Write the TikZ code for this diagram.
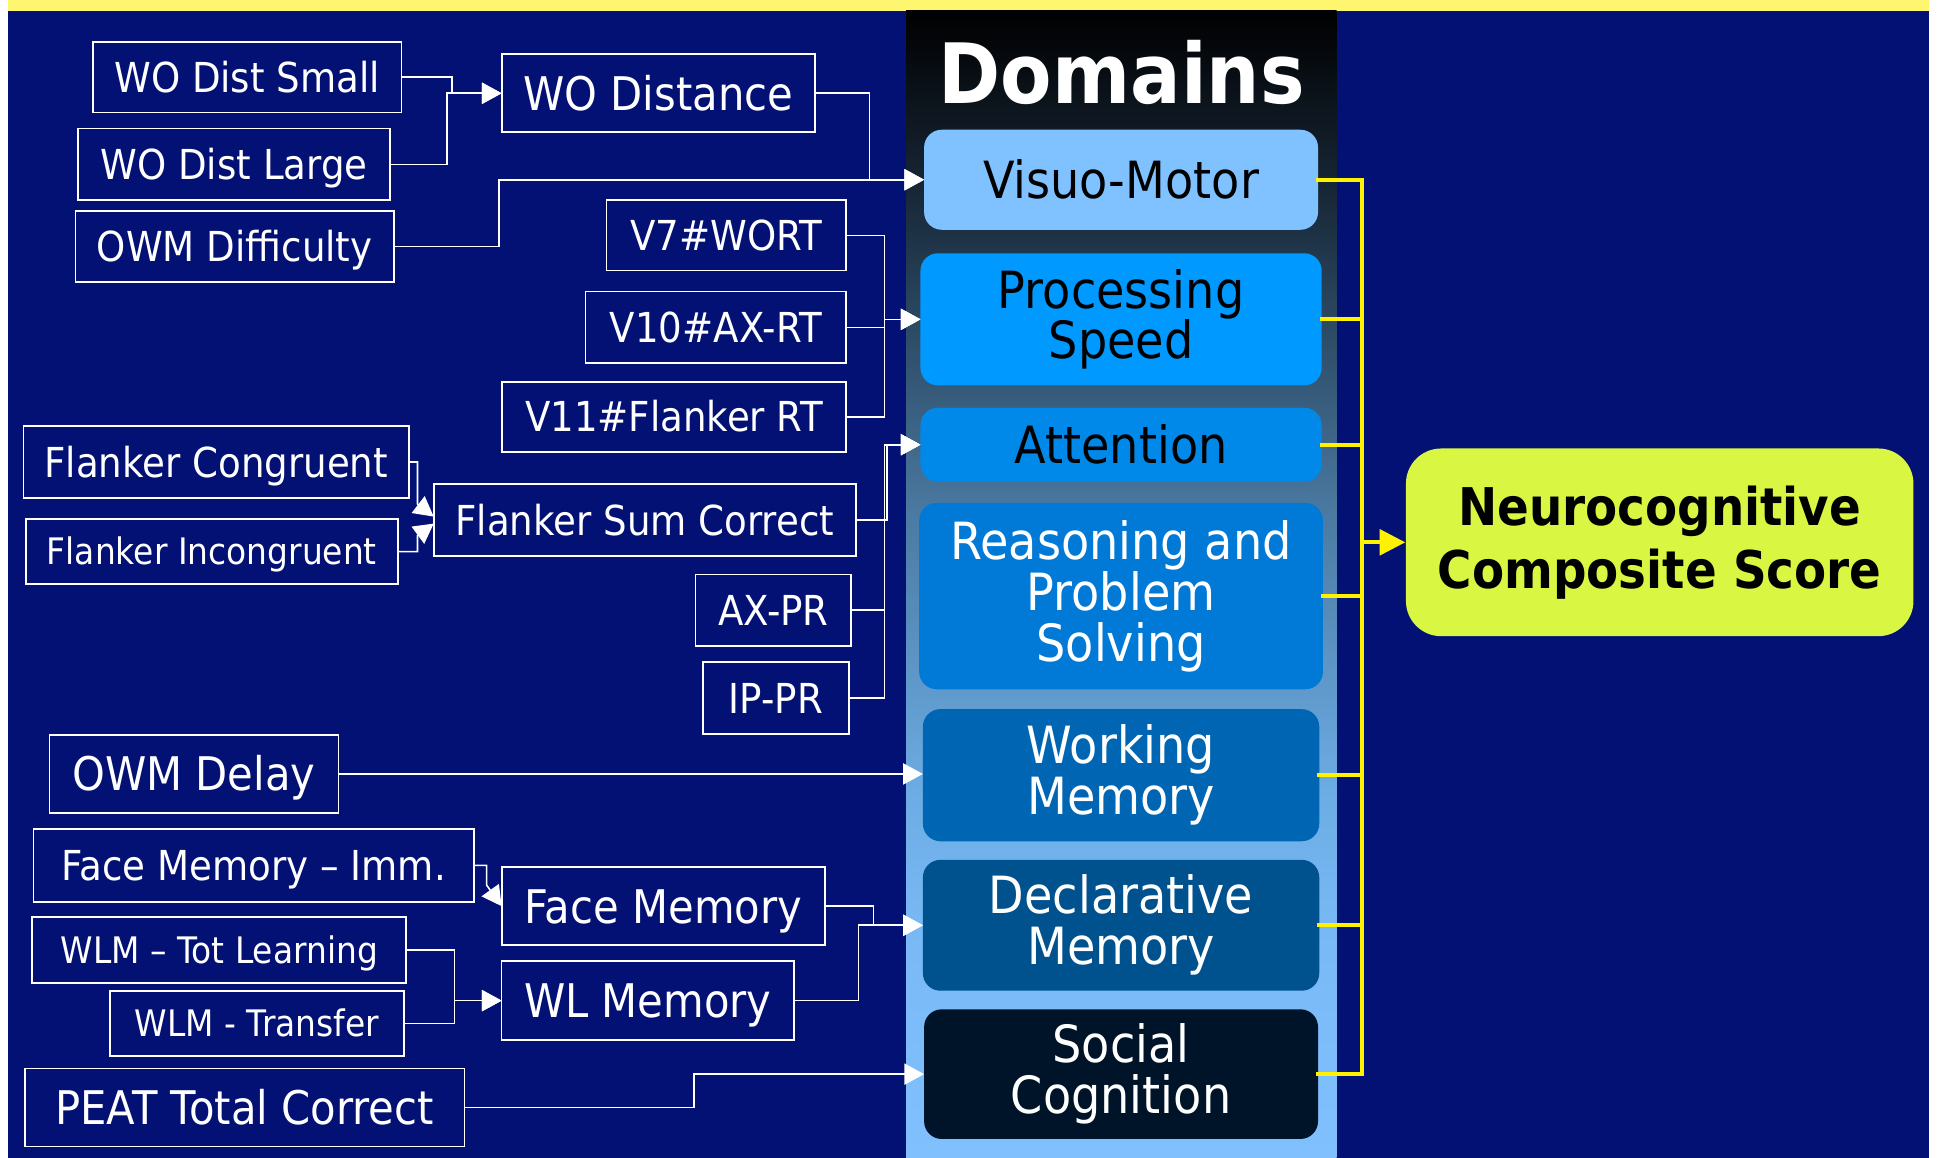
\documentclass[tikz,border=0pt]{standalone}
\usepackage{fontspec}
\setmainfont{DejaVu Sans}[FakeStretch=0.9]
\usetikzlibrary{arrows.meta}

\definecolor{slidenavy}{RGB}{2,17,115}
\definecolor{bandyellow}{RGB}{255,246,112}
\definecolor{panellight}{RGB}{128,192,255}
\definecolor{panelmidA}{RGB}{120,185,245}
\definecolor{panelmidB}{RGB}{108,172,228}
\definecolor{panelmidC}{RGB}{75,122,162}
\definecolor{panelmidD}{RGB}{45,75,102}
\definecolor{panelmidE}{RGB}{24,40,56}
\definecolor{dvm}{RGB}{128,194,255}
\definecolor{dps}{RGB}{0,153,255}
\definecolor{datt}{RGB}{0,137,232}
\definecolor{drps}{RGB}{0,122,214}
\definecolor{dwm}{RGB}{0,102,179}
\definecolor{ddm}{RGB}{0,82,143}
\definecolor{dsc}{RGB}{0,20,41}
\definecolor{ncs}{RGB}{217,247,66}

\pgfdeclareverticalshading{panelshade}{100bp}{color(0bp)=(panellight); color(25bp)=(panellight); color(35bp)=(panelmidA); color(41bp)=(panelmidB); color(53bp)=(panelmidC); color(61bp)=(panelmidD); color(67bp)=(panelmidE); color(75bp)=(black); color(100bp)=(black)}

\def\pxu{0.3515pt}
\newcommand\domtxt{\fontsize{14.6}{14.5}\selectfont}

\begin{document}
\begin{tikzpicture}[x=0.012353cm, y=-0.012353cm,
    >={Triangle[length=5.6pt,width=6pt]},
    measurebox/.style={draw=white, line width=0.5pt, text=white, inner sep=0pt, outer sep=0pt},
    normbox/.style={font=\fontsize{11.75}{14}\selectfont, text height=11.5pt, text depth=2.94pt},
    bigbox/.style={font=\fontsize{13.2}{16}\selectfont, text height=12.92pt, text depth=3.3pt},
    smallbox/.style={font=\fontsize{10.4}{12}\selectfont, text height=10.18pt, text depth=2.6pt},
    domainbox/.style={rounded corners=5pt, inner sep=0pt, outer sep=0pt, align=center, font=\domtxt},
    link/.style={->, white, line width=0.45pt},
    gold/.style={yellow, line width=1.1pt, line cap=rect}]

  % Background
  \useasboundingbox (0,0) rectangle (1568,937);
  \fill[white] (0,0) rectangle (1568,937);
  \fill[slidenavy] (6.5,8.9) rectangle (1561.5,937);
  \fill[bandyellow] (6.5,0) rectangle (1561.5,8.9);
  \shade[shading=panelshade] (733.5,8.9) rectangle (1082,937);

  % Title
  \node[text=white, font=\fontsize{23.7}{28}\selectfont\bfseries, anchor=base] (title) at (908,84) {Domains};

  % Domains
  \node[domainbox, fill=dvm, minimum width=319*\pxu, minimum height=81*\pxu] (vm) at (907.5,145.5) {Visuo-Motor};
  \node[domainbox, fill=dps, minimum width=325*\pxu, minimum height=107*\pxu] (ps) at (907.5,258.5) {Processing\\Speed};
  \node[domainbox, fill=datt, minimum width=325*\pxu, minimum height=60*\pxu] (att) at (907.5,360) {Attention};
  \node[domainbox, fill=drps, text=white, minimum width=327*\pxu, minimum height=151*\pxu] (rps) at (907.5,482.5) {Reasoning and\\Problem\\Solving};
  \node[domainbox, fill=dwm, text=white, minimum width=321*\pxu, minimum height=107*\pxu] (wm) at (907.5,627.5) {Working\\Memory};
  \node[domainbox, fill=ddm, text=white, minimum width=321*\pxu, minimum height=106*\pxu] (dm) at (907.5,749) {Declarative\\Memory};
  \node[domainbox, fill=dsc, text=white, minimum width=319*\pxu, minimum height=105*\pxu] (sc) at (907.5,869.5) {Social\\Cognition};

  % Composite score
  \node[fill=ncs, rounded corners=10pt, minimum width=411*\pxu, minimum height=152*\pxu, align=center,
        font=\fontsize{14.8}{17.9}\selectfont\bfseries] (ncs) at (1343.5,439) {Neurocognitive\\Composite Score};

  % Measures
  \foreach \n/\cx/\cy/\w/\h/\s/\t in {
      wds/200/62.5/250/57/normbox/WO Dist Small,
      wdl/189.5/133/253/58/normbox/WO Dist Large,
      owmdiff/190/199.5/258/57/normbox/OWM Difficulty,
      wd/533/75.5/254/63/bigbox/WO Distance,
      v7/588/190.5/194/57/normbox/V7\#WORT,
      v10/579.5/265/211/58/normbox/V10\#AX-RT,
      v11/545.5/337.5/279/57/normbox/V11\#Flanker RT,
      fc/175/374/312/58/normbox/Flanker Congruent,
      fi/171.5/446.5/301/53/smallbox/Flanker Incongruent,
      fsc/522/421/342/58/normbox/Flanker Sum Correct,
      axpr/626/494/126/58/normbox/AX-PR,
      ippr/628/565/118/58/normbox/IP-PR,
      owmdel/157/626.5/234/63/bigbox/OWM Delay,
      fmi/205.5/700.5/357/59/normbox/Face Memory – Imm.,
      fm/537/733.5/262/63/bigbox/Face Memory,
      wlmt/177.5/769/303/54/smallbox/WLM – Tot Learning,
      wlmx/208/828.5/238/53/smallbox/WLM - Transfer,
      wl/524.5/810/237/64/bigbox/WL Memory,
      peat/198/896.5/356/63/bigbox/PEAT Total Correct}
    \node[measurebox, \s, minimum width=\w*\pxu, minimum height=\h*\pxu] (\n) at (\cx,\cy) {\t};

  % Arrows
  \foreach \a/\dx/\b in {wds/41/wd, wdl/46/wd, wd/44/vm, owmdiff/85/vm,
      v7/31/ps, v10/31/ps, v11/31/ps, fsc/25/att, axpr/27/att, ippr/29/att,
      fm/39/dm, wl/52/dm, peat/186/sc, wlmt/39/wl, wlmx/41/wl}
    \draw[link] (\a.east) -- ++(\dx,0) |- (\b.west);
  \draw[link] (owmdel.east) -- (owmdel.east -| wm.west);
  \draw[link] (fc.east) -| ++(7,34) -- ([yshift=1pt]fsc.west);
  \draw[link] (fi.east) -| ++(16,-13) -- ([yshift=-1pt]fsc.west);
  \draw[link] (fmi.east) -| ++(10,16) -- (fm.west);

  % Domains to composite
  \coordinate (ybus) at (1102.5,439);
  \foreach \d in {vm,ps,att,rps,wm,dm,sc}
    \draw[gold] (\d.east) -- (\d.east -| ybus);
  \draw[gold] (vm.east -| ybus) -- (sc.east -| ybus);
  \draw[gold, -{Triangle[length=7.3pt,width=7.3pt]}] (ybus) -- (ncs.west);

\end{tikzpicture}
\end{document}
